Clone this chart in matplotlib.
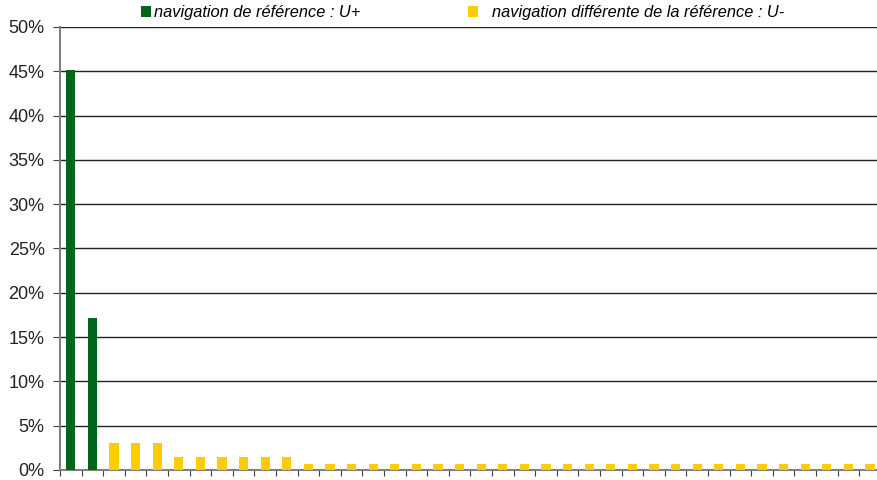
import matplotlib.pyplot as plt
from matplotlib.ticker import MultipleLocator, FuncFormatter

# values in %
ref_values = [45.1, 17.1]
other_values = [3.0, 3.0, 3.0,
                1.5, 1.5, 1.5, 1.5, 1.5, 1.5] + [0.7] * 27
ref_label = "navigation de référence : U+"
other_label = "navigation différente de la référence : U-"

green = "#00661a"
yellow = "#ffcc00"

plt.rcParams['font.family'] = ['Liberation Sans', 'DejaVu Sans']

fig = plt.figure(figsize=(8.77, 4.8), dpi=100)
n = len(ref_values) + len(other_values)
step = 21.6 / 877
ax = fig.add_axes([60 / 877, 10 / 480, n * step, 443 / 480])

x_ref = [i + 0.5 for i in range(len(ref_values))]
x_other = [len(ref_values) + i + 0.5 for i in range(len(other_values))]
b1 = ax.bar(x_ref, ref_values, width=0.42, color=green, zorder=3)
b2 = ax.bar(x_other, other_values, width=0.42, color=yellow, zorder=3)

ax.set_xlim(0, n)
ax.set_ylim(0, 50)
ax.yaxis.set_major_locator(MultipleLocator(5))
ax.yaxis.set_major_formatter(FuncFormatter(lambda v, p: f"{v:.0f}%"))
ax.set_xticks(range(n + 1))
ax.set_xticklabels([])
ax.grid(axis='y', color='#222222', linewidth=1.0, zorder=1)
for s in ['top', 'right']:
    ax.spines[s].set_visible(False)
for s in ['left', 'bottom']:
    ax.spines[s].set_color('#808080')
    ax.spines[s].set_linewidth(1.5)
ax.tick_params(axis='y', length=5, color='#404040', labelsize=13, pad=6,
               labelcolor='#222222')
ax.tick_params(axis='x', length=4, color='#404040', direction='out')

fig.legend([b1], [ref_label], loc='upper left', bbox_to_anchor=(126 / 877, 1.02),
           frameon=False, handlelength=0.65, handleheight=0.65, handletextpad=0.15,
           prop={'style': 'italic', 'size': 11.8})
fig.legend([b2], [other_label], loc='upper left', bbox_to_anchor=(453 / 877, 1.02),
           frameon=False, handlelength=0.65, handleheight=0.65, handletextpad=0.8,
           prop={'style': 'italic', 'size': 11.8})

fig.savefig("out.png", dpi=100)
